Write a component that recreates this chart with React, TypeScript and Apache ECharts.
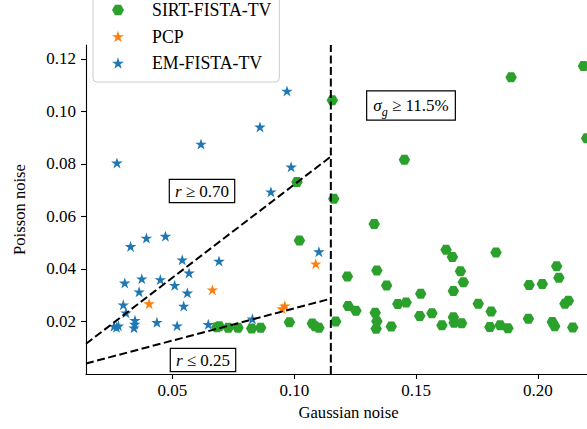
import React, { useEffect, useRef } from "react";
import * as echarts from "echarts";

// Marker shapes (matplotlib-style star and hexagon)
const STAR =
  "path://M0,-1L0.2245,-0.309L0.9511,-0.309L0.3633,0.118L0.5878,0.809L0,0.382L-0.5878,0.809L-0.3633,0.118L-0.9511,-0.309L-0.2245,-0.309Z";
const HEX = "path://M-1,0L-0.5,-0.866L0.5,-0.866L1,0L0.5,0.866L-0.5,0.866Z";

const FONT = "Liberation Serif";

const seriesNames = ["SIRT-FISTA-TV", "PCP", "EM-FISTA-TV"];

// SIRT-FISTA-TV: (Gaussian noise, Poisson noise)
const sirtGauss = [
  0.1011, 0.1162, 0.1021, 0.0682, 0.0692, 0.0729, 0.0769, 0.0825, 0.0862, 0.098,
  0.1074, 0.1085, 0.1101, 0.117, 0.1156, 0.1452, 0.189, 0.2187, 0.22, 0.1328,
  0.1623, 0.1649, 0.1828, 0.1218, 0.1339, 0.1379, 0.1682, 0.1694, 0.1653, 0.2077,
  0.2086, 0.1964, 0.2018, 0.1519, 0.1221, 0.1253, 0.1425, 0.1459, 0.1755, 0.1808,
  0.2111, 0.2125, 0.1332, 0.1339, 0.1336, 0.1398, 0.1515, 0.1565, 0.1606, 0.1653,
  0.1656, 0.1687, 0.1803, 0.1845, 0.1877, 0.1961, 0.2059, 0.2069, 0.2143,
];
const sirtPoisson = [
  0.0731, 0.0667, 0.0508, 0.0178, 0.0182, 0.0176, 0.0176, 0.0173, 0.0176, 0.0197,
  0.0192, 0.0182, 0.0176, 0.02, 0.1043, 0.0816, 0.113, 0.1173, 0.0898, 0.0571,
  0.0473, 0.0446, 0.0463, 0.0371, 0.0394, 0.0337, 0.0391, 0.0349, 0.0316, 0.041,
  0.0367, 0.0339, 0.0343, 0.0306, 0.0259, 0.0241, 0.0267, 0.0272, 0.0268, 0.0238,
  0.0268, 0.0279, 0.0233, 0.0201, 0.0172, 0.0181, 0.0221, 0.0231, 0.0186, 0.0216,
  0.0195, 0.0193, 0.0179, 0.0186, 0.0174, 0.021, 0.0198, 0.0182, 0.0177,
];

// PCP
const pcpGauss = [0.0404, 0.0664, 0.1088, 0.0961, 0.095];
const pcpPoisson = [0.0268, 0.0321, 0.042, 0.026, 0.0249];

// EM-FISTA-TV
const emGauss = [
  0.0272, 0.0617, 0.0859, 0.097, 0.0987, 0.0904, 0.1101, 0.0328, 0.0393, 0.0471,
  0.054, 0.0568, 0.0691, 0.0304, 0.0374, 0.045, 0.0509, 0.0363, 0.0561, 0.0298,
  0.0309, 0.0546, 0.026, 0.0278, 0.027, 0.0346, 0.0342, 0.0345, 0.0436, 0.0519,
  0.0647, 0.0828,
];
const emPoisson = [
  0.0804, 0.0876, 0.0941, 0.1078, 0.0789, 0.0694, 0.0466, 0.0486, 0.0518, 0.0525,
  0.0435, 0.0385, 0.043, 0.0347, 0.0363, 0.036, 0.0338, 0.0313, 0.0309, 0.0264,
  0.0233, 0.0259, 0.0182, 0.0184, 0.0178, 0.0205, 0.0176, 0.019, 0.0197, 0.0184,
  0.0189, 0.021,
];

// Threshold guides
const sigmaGThreshold = 0.115;
const upperGuideX = [0.0145, 0.115];
const upperGuideY = [0.0115, 0.0828];
const lowerGuideX = [0.0145, 0.115];
const lowerGuideY = [0.004, 0.0287];

// Axes
const xMin = 0.0145;
const xMax = 0.23;
const yMin = 0;
const yMax = 0.1253;
const xTicks = [0.05, 0.1, 0.15, 0.2];
const yTicks = [0.02, 0.04, 0.06, 0.08, 0.1, 0.12];

const zip = (xs: number[], ys: number[]) => xs.map((x, i) => [x, ys[i]]);

const dashed = { color: "#000", width: 2, type: [8, 3.5] as number[] };

// Force every chart text onto the serif face
const textCss = `#noise-chart text { font-family: "Liberation Serif", serif !important; }`;

export default function App() {
  const ref = useRef<HTMLDivElement>(null);

  useEffect(() => {
    if (!ref.current) return;
    const chart = echarts.init(ref.current, null, { renderer: "svg" });

    const serif = (size: number, italic = false) => ({
      fontFamily: FONT,
      fontSize: size,
      fontStyle: italic ? "italic" : "normal",
      color: "#000",
    });

    const boxStyle = {
      fontFamily: FONT,
      fontSize: 17,
      fill: "#000",
      align: "center",
      verticalAlign: "middle",
      backgroundColor: "#fff",
      borderColor: "#000",
      borderWidth: 1.2,
    };

    chart.setOption({
      animation: false,
      backgroundColor: "#fff",
      textStyle: { fontFamily: FONT, color: "#000" },
      grid: { left: 86, top: 45, right: 29, bottom: 55 },
      xAxis: {
        type: "value",
        min: xMin,
        max: xMax,
        name: "Gaussian noise",
        nameLocation: "middle",
        nameGap: 30,
        nameTextStyle: serif(16.6),
        axisLine: { show: true, onZero: false, lineStyle: { color: "#000", width: 1.1 } },
        axisTick: { show: true, length: 5, customValues: xTicks, lineStyle: { color: "#000", width: 1.1 } },
        axisLabel: {
          ...serif(17),
          margin: 8,
          customValues: xTicks,
          formatter: (v: number) => v.toFixed(2),
        },
        splitLine: { show: false },
      },
      yAxis: {
        type: "value",
        min: yMin,
        max: yMax,
        name: "Poisson noise",
        nameLocation: "middle",
        nameGap: 58,
        nameTextStyle: serif(16.6),
        axisLine: { show: true, onZero: false, lineStyle: { color: "#000", width: 1.1 } },
        axisTick: { show: true, length: 5, customValues: yTicks, lineStyle: { color: "#000", width: 1.1 } },
        axisLabel: {
          ...serif(17),
          margin: 10,
          customValues: yTicks,
          formatter: (v: number) => v.toFixed(2),
        },
        splitLine: { show: false },
      },
      legend: {
        data: seriesNames,
        orient: "vertical",
        left: 93,
        top: -17,
        padding: [18, 8, 10, 19],
        itemWidth: 12,
        itemHeight: 12,
        itemGap: 8.5,
        backgroundColor: "rgba(255,255,255,0.8)",
        borderColor: "#cccccc",
        borderWidth: 1,
        borderRadius: 4,
        textStyle: {
          ...serif(17.8),
          lineHeight: 12,
          padding: [0, 0, 0, 23],
        },
      },
      series: [
        {
          name: "EM-FISTA-TV",
          type: "scatter",
          data: zip(emGauss, emPoisson),
          symbol: STAR,
          symbolSize: [11.5, 11],
          itemStyle: { color: "#1f77b4", opacity: 1 },
          z: 2,
        },
        {
          name: "PCP",
          type: "scatter",
          data: zip(pcpGauss, pcpPoisson),
          symbol: STAR,
          symbolSize: [11.5, 11],
          itemStyle: { color: "#ff7f0e", opacity: 1 },
          z: 2,
        },
        {
          name: "SIRT-FISTA-TV",
          type: "scatter",
          data: zip(sirtGauss, sirtPoisson),
          symbol: HEX,
          symbolSize: [11.5, 10],
          itemStyle: { color: "#2ca02c", opacity: 1 },
          z: 2,
        },
        {
          name: "r upper",
          type: "line",
          data: zip(upperGuideX, upperGuideY),
          symbol: "none",
          lineStyle: dashed,
          silent: true,
          z: 4,
        },
        {
          name: "r lower",
          type: "line",
          data: zip(lowerGuideX, lowerGuideY),
          symbol: "none",
          lineStyle: dashed,
          silent: true,
          z: 4,
        },
        {
          name: "sigma_g",
          type: "line",
          data: [
            [sigmaGThreshold, yMin],
            [sigmaGThreshold, yMax],
          ],
          symbol: "none",
          lineStyle: dashed,
          silent: true,
          z: 4,
        },
      ],
      graphic: [
        {
          type: "text",
          x: 202,
          y: 191,
          z: 10,
          style: {
            ...boxStyle,
            text: "{i|r} ≥ 0.70",
            padding: [3, 5, 2, 5],
            rich: { i: serif(17, true) },
          },
        },
        {
          type: "text",
          x: 203,
          y: 360,
          z: 10,
          style: {
            ...boxStyle,
            text: "{i|r} ≤ 0.25",
            padding: [3, 5, 2, 5],
            rich: { i: serif(17, true) },
          },
        },
        {
          type: "text",
          x: 411,
          y: 105.5,
          z: 10,
          style: {
            ...boxStyle,
            text: "{s|σ}{g|g}{n| ≥ 11.5%}",
            padding: [2, 6, 2, 6],
            rich: {
              s: { ...serif(17, true), lineHeight: 24 },
              g: { ...serif(12, true), lineHeight: 14, verticalAlign: "bottom" },
              n: { ...serif(17), lineHeight: 24 },
            },
          },
        },
      ],
    });

    return () => chart.dispose();
  }, []);

  return (
    <div
      id="noise-chart"
      style={{
        position: "fixed",
        left: 0,
        top: 0,
        width: 587,
        height: 429,
        overflow: "hidden",
        background: "#fff",
      }}
    >
      <style>{textCss}</style>
      <div ref={ref} style={{ width: 640, height: 429 }} />
    </div>
  );
}
